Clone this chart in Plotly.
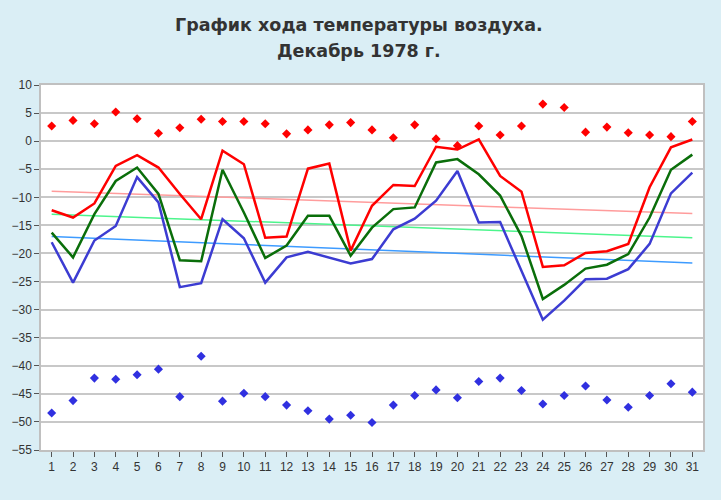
import plotly.graph_objects as go

days = list(range(1, 32))

# абсолютный максимум (точки)
abs_max = [2.7, 3.7, 3.1, 5.2, 4.0, 1.4, 2.4, 3.9, 3.5, 3.5, 3.1, 1.3, 2.0, 2.9, 3.3, 2.0,
           0.6, 2.9, 0.4, -0.8, 2.7, 1.1, 2.7, 6.6, 6.0, 1.6, 2.5, 1.5, 1.1, 0.8, 3.5]
# максимальная температура
t_max = [-12.3, -13.6, -11.1, -4.4, -2.5, -4.7, -9.4, -13.9, -1.7, -4.1, -17.2, -17.0, -4.9,
         -4.0, -19.5, -11.5, -7.8, -8.0, -1.0, -1.5, 0.3, -6.2, -9.0, -22.4, -22.1, -19.9,
         -19.6, -18.3, -8.2, -1.1, 0.3]
# средняя температура
t_mean = [-16.3, -20.7, -13.0, -7.1, -4.7, -9.4, -21.2, -21.4, -5.1, -12.7, -20.8, -18.6,
          -13.3, -13.3, -20.4, -15.4, -12.1, -11.8, -3.8, -3.2, -5.9, -9.7, -16.9, -28.1,
          -25.6, -22.7, -22.0, -20.1, -13.6, -5.1, -2.4]
# минимальная температура
t_min = [-18.0, -25.2, -17.7, -15.1, -6.4, -10.9, -26.0, -25.3, -13.9, -17.3, -25.2, -20.7,
         -19.7, -20.7, -21.8, -21.0, -15.7, -13.8, -10.6, -5.3, -14.5, -14.4, -23.1, -31.8,
         -28.4, -24.6, -24.5, -22.8, -18.3, -9.3, -5.6]
# абсолютный минимум (точки)
abs_min = [-48.4, -46.2, -42.2, -42.4, -41.6, -40.6, -45.5, -38.3, -46.3, -44.9, -45.5, -47.0,
           -48.0, -49.5, -48.8, -50.1, -47.0, -45.3, -44.3, -45.7, -42.8, -42.2, -44.4, -46.8,
           -45.3, -43.6, -46.1, -47.4, -45.3, -43.2, -44.7]

# нормы (начало и конец месяца)
norm_days = [1, 31]
norm_max = [-8.9, -12.9]
norm_mean = [-13.0, -17.2]
norm_min = [-17.0, -21.7]

title_lines = ["График хода температуры воздуха.", "Декабрь 1978 г."]

fig = go.Figure()

fig.add_trace(go.Scatter(x=norm_days, y=norm_max, mode="lines",
                         line=dict(color="#ff9c9c", width=1.5)))
fig.add_trace(go.Scatter(x=norm_days, y=norm_mean, mode="lines",
                         line=dict(color="#4cf58c", width=1.5)))
fig.add_trace(go.Scatter(x=norm_days, y=norm_min, mode="lines",
                         line=dict(color="#3d9bff", width=1.5)))

fig.add_trace(go.Scatter(x=days, y=t_max, mode="lines",
                         line=dict(color="#ff0000", width=2.5)))
fig.add_trace(go.Scatter(x=days, y=t_mean, mode="lines",
                         line=dict(color="#0a6e0a", width=2.5)))
fig.add_trace(go.Scatter(x=days, y=t_min, mode="lines",
                         line=dict(color="#3c3cd2", width=2.5)))

fig.add_trace(go.Scatter(x=days, y=abs_max, mode="markers",
                         marker=dict(symbol="diamond", size=7, color="#ff0000")))
fig.add_trace(go.Scatter(x=days, y=abs_min, mode="markers",
                         marker=dict(symbol="diamond", size=7, color="#3030e0")))

# заголовок двумя строками (шире межстрочный интервал, чем у title)
for txt, ypos in zip(title_lines, [1.164, 1.093]):
    fig.add_annotation(text="<b>" + txt + "</b>", xref="paper", yref="paper",
                       x=0.48, y=ypos, xanchor="center", yanchor="middle",
                       showarrow=False,
                       font=dict(family="DejaVu Sans, Verdana, sans-serif",
                                 size=17.5, color="#333333"))

fig.update_layout(
    width=721, height=500,
    paper_bgcolor="#daeef5",
    plot_bgcolor="white",
    showlegend=False,
    margin=dict(l=41, r=18, t=85, b=50),
    font=dict(family="Liberation Sans, Arial, sans-serif", size=12, color="#333333"),
)

fig.update_xaxes(
    range=[0.5, 31.5], tickmode="array", tickvals=days,
    ticks="outside", ticklen=5, tickcolor="#555555",
    showgrid=False, showline=True, linecolor="#c0c0c0", linewidth=1.5, mirror=True,
    zeroline=False, tickfont=dict(size=12, color="#333333"),
)
fig.update_yaxes(
    range=[-55, 10], dtick=5, tickformat="d",
    ticks="outside", ticklen=5, tickcolor="#555555",
    showgrid=True, gridcolor="#c8c8c8", gridwidth=1.5,
    showline=True, linecolor="#c0c0c0", linewidth=1.5, mirror=True,
    zeroline=False, tickfont=dict(size=12, color="#333333"),
)

fig.write_html("out.html", config={"displayModeBar": False},
               post_script="document.body.style.margin='0px';")
